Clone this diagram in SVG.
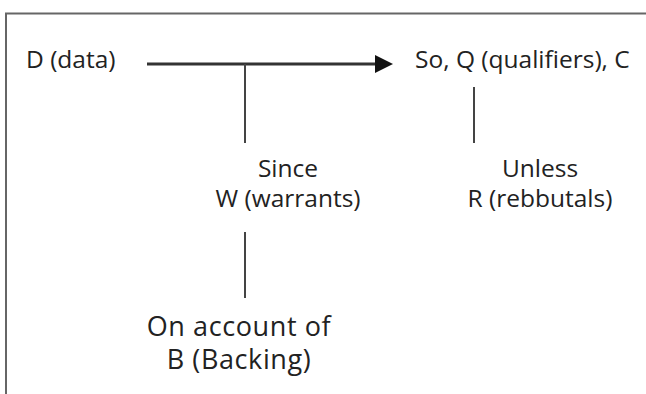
<svg xmlns="http://www.w3.org/2000/svg" width="646" height="394" viewBox="0 0 646 394">
<defs>
<style>
.t{font-family:"Open Sans","Noto Sans","DejaVu Sans",sans-serif;fill:#222;font-size:24.5px}
.c{text-anchor:middle}
.big{font-size:27px;letter-spacing:0.6px}
.ln{stroke:#444;stroke-width:2;fill:none}
</style>
</defs>
<rect width="646" height="394" fill="#fff"/>
<path d="M6,400V13.5H650" fill="none" stroke="#666" stroke-width="2"/>
<g id="connectors">
<path d="M147,64H375" stroke="#333" stroke-width="3" fill="none"/>
<path d="M375,55L393,64L375,73z" fill="#111"/>
<path class="ln" d="M245,64V143"/>
<path class="ln" d="M474,87V143"/>
<path class="ln" d="M245,232V298"/>
</g>
<g id="data"><text class="t" x="26" y="68">D (data)</text></g>
<g id="claim"><text class="t" x="415" y="68">So, Q (qualifiers), C</text></g>
<g id="warrant"><text class="t c" x="288" y="177">Since</text><text class="t c" x="288" y="207">W (warrants)</text></g>
<g id="rebuttal"><text class="t c" x="540" y="177">Unless</text><text class="t c" x="540" y="207">R (rebbutals)</text></g>
<g id="backing"><text class="t c big" x="239" y="335.5">On account of</text><text class="t c big" x="239" y="369">B (Backing)</text></g>
</svg>
